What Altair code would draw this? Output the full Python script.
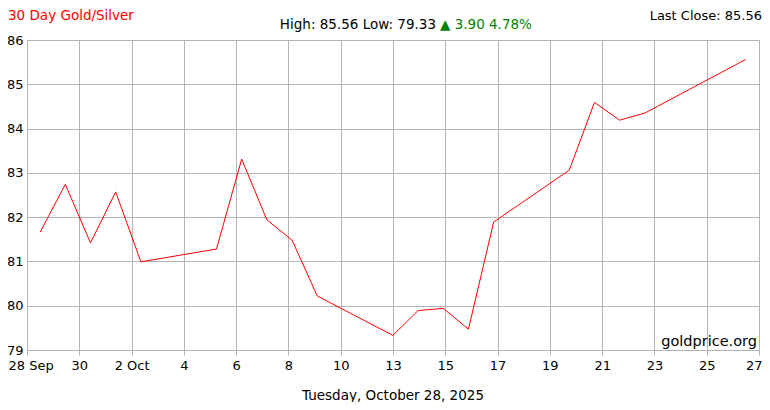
import altair as alt
import pandas as pd

# ---- data ----
dates = ["2025-09-29", "2025-09-30", "2025-10-01", "2025-10-02", "2025-10-03",
         "2025-10-06", "2025-10-07", "2025-10-08", "2025-10-09", "2025-10-10",
         "2025-10-13", "2025-10-14", "2025-10-15", "2025-10-16", "2025-10-17",
         "2025-10-20", "2025-10-21", "2025-10-22", "2025-10-23", "2025-10-27"]
ratio = [81.66, 82.74, 81.42, 82.57, 80.99,
         81.28, 83.31, 81.94, 81.48, 80.22,
         79.33, 79.89, 79.94, 79.47, 81.89,
         83.06, 84.59, 84.19, 84.35, 85.56]
x_tick_labels = ["28 Sep", "30", "2 Oct", "4", "6", "8", "10", "13",
                 "15", "17", "19", "21", "23", "25", "27"]
y_ticks = [79, 80, 81, 82, 83, 84, 85, 86]

title_text = "30 Day Gold/Silver"
date_text = "Tuesday, October 28, 2025"
source_text = "goldprice.org"

# ---- derived ----
base = pd.Timestamp("2025-09-29")
days = [(pd.Timestamp(d) - base).days for d in dates]
df = pd.DataFrame({"day": days, "ratio": ratio})

x_min, x_max = -0.52, 28.53
n = len(x_tick_labels) - 1
step = (x_max - x_min) / n
x_vals = [round(x_min + k * step, 4) for k in range(n)] + [x_max]
label_js = "[" + ",".join("'" + s + "'" for s in x_tick_labels) + "]"

hi, lo = max(ratio), min(ratio)
chg = ratio[-1] - ratio[0]
pct = chg / ratio[0] * 100
hl_text = f"High: {hi:.2f} Low: {lo:.2f}"
chg_text = f"\u25b2 {chg:.2f} {pct:.2f}%"
last_text = f"Last Close: {ratio[-1]:.2f}"

W, H = 732, 310
FONT = "DejaVu Sans"
GRID = "#b4b4b4"

first_test = "datum.value < 0"
last_test = f"datum.value > {x_max - 0.1}"

line = alt.Chart(df).mark_line(color="#ff0000", strokeWidth=1).encode(
    x=alt.X("day:Q", scale=alt.Scale(domain=[x_min, x_max], nice=False, zero=False),
            axis=alt.Axis(values=x_vals, title=None,
                          labelExpr=f"{label_js}[round((datum.value - ({x_min}))/{step})]",
                          labelAlign={"condition": [{"test": first_test, "value": "left"},
                                                    {"test": last_test, "value": "right"}],
                                      "value": "center"},
                          labelOffset={"condition": [{"test": first_test, "value": -19},
                                                     {"test": last_test, "value": 3}],
                                       "value": 0},
                          labelOverlap=False,
                          grid=True, gridColor=GRID, tickColor=GRID, tickSize=5,
                          domainColor=GRID, labelPadding=4, labelFontSize=13,
                          labelFont=FONT, labelColor="#000", labelFlush=False,
                          labelBound=False)),
    y=alt.Y("ratio:Q", scale=alt.Scale(domain=[79, 86], nice=False, zero=False),
            axis=alt.Axis(values=y_ticks, title=None, grid=True, gridColor=GRID,
                          tickSize=0, domainColor=GRID, labelPadding=4,
                          labelFontSize=13, labelFont=FONT, labelColor="#000",
                          labelFlush=False)),
)


def txt(s, x, y, color="#000", align="left", baseline="middle", size=13.5):
    return alt.Chart(pd.DataFrame({"t": [s]})).mark_text(
        align=align, baseline=baseline, font=FONT, fontSize=size, color=color
    ).encode(x=alt.value(x), y=alt.value(y), text="t:N")


chart = alt.layer(
    line,
    txt(title_text, -19, -24, color="#ff0000"),
    txt(last_text, 735, -24, align="right", size=13),
    txt(hl_text, 409, -15, align="right"),
    txt(chg_text, 413, -15, color="#008000"),
    txt(source_text, 730, 302, align="right", size=14.5),
    txt(date_text, 366, 356, align="center"),
).properties(
    width=W, height=H,
    padding={"left": 19, "top": 32, "right": 3, "bottom": 52},
    autosize=alt.AutoSizeParams(type="none"),
).configure_view(stroke=None).configure(background="white")

chart.save("out.html", embed_options={"renderer": "svg", "actions": False})
